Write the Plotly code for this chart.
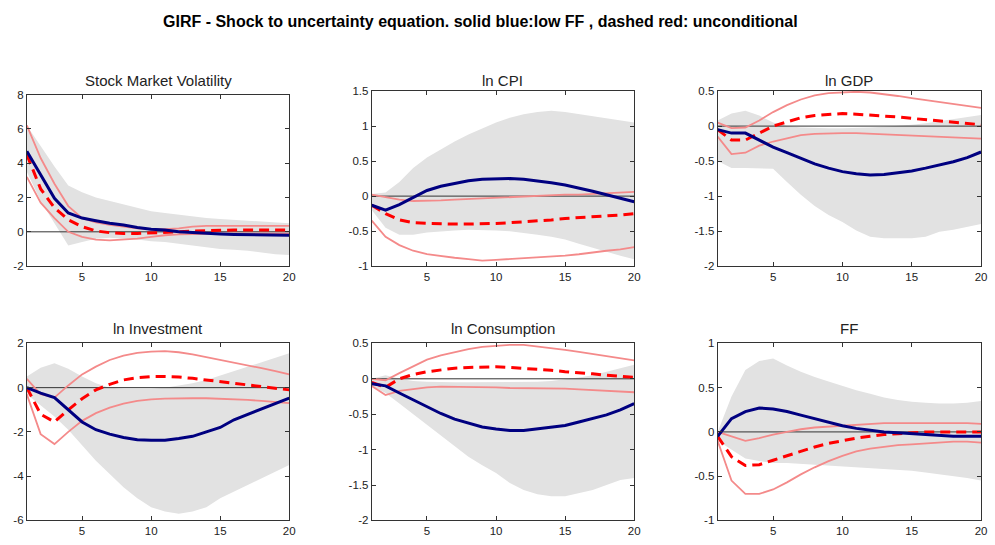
import plotly.graph_objects as go

horizon = list(range(1, 21))

titles = ["Stock Market Volatility", "ln CPI", "ln GDP", "ln Investment", "ln Consumption", "FF"]
main_title = "GIRF - Shock to uncertainty equation. solid blue:low FF , dashed red: unconditional"

# --- Stock Market Volatility ---
vol_blue = [4.7, 3.3, 1.95, 1.1, 0.8, 0.65, 0.5, 0.4, 0.25, 0.15, 0.1, 0.0, -0.05, -0.1, -0.12, -0.15, -0.17, -0.18, -0.19, -0.2]
vol_red = [4.5, 2.5, 1.4, 0.7, 0.3, 0.05, -0.05, -0.1, -0.1, -0.08, -0.05, 0.0, 0.05, 0.08, 0.1, 0.1, 0.1, 0.1, 0.1, 0.1]
vol_red_hi = [6.2, 4.3, 2.8, 1.5, 0.8, 0.55, 0.4, 0.3, 0.2, 0.15, 0.15, 0.2, 0.3, 0.35, 0.35, 0.35, 0.35, 0.35, 0.35, 0.35]
vol_red_lo = [3.2, 1.7, 0.8, 0.0, -0.3, -0.45, -0.5, -0.45, -0.4, -0.3, -0.2, -0.15, -0.15, -0.12, -0.1, -0.1, -0.1, -0.1, -0.1, -0.1]
vol_band_hi = [6.2, 5.0, 3.8, 2.7, 2.3, 2.0, 1.8, 1.6, 1.4, 1.2, 1.1, 1.0, 0.9, 0.8, 0.75, 0.7, 0.65, 0.6, 0.55, 0.5]
vol_band_lo = [3.5, 1.8, 0.5, -0.8, -0.6, -0.4, -0.35, -0.4, -0.45, -0.55, -0.6, -0.7, -0.8, -0.9, -1.0, -1.05, -1.1, -1.2, -1.3, -1.35]

# --- ln CPI ---
cpi_blue = [-0.13, -0.2, -0.12, -0.02, 0.08, 0.14, 0.18, 0.22, 0.24, 0.25, 0.25, 0.24, 0.22, 0.19, 0.16, 0.12, 0.07, 0.02, -0.03, -0.08]
cpi_red = [-0.13, -0.25, -0.34, -0.38, -0.39, -0.4, -0.4, -0.4, -0.4, -0.39, -0.38, -0.37, -0.36, -0.34, -0.32, -0.31, -0.3, -0.28, -0.27, -0.25]
cpi_red_hi = [0.02, -0.02, -0.05, -0.07, -0.07, -0.06, -0.05, -0.04, -0.03, -0.02, -0.01, 0.0, 0.01, 0.01, 0.02, 0.02, 0.03, 0.04, 0.05, 0.06]
cpi_red_lo = [-0.35, -0.58, -0.7, -0.78, -0.83, -0.86, -0.88, -0.9, -0.92, -0.91, -0.9, -0.89, -0.88, -0.87, -0.85, -0.83, -0.8, -0.78, -0.76, -0.73]
cpi_band_hi = [0.03, 0.05, 0.2, 0.4, 0.55, 0.67, 0.78, 0.88, 0.97, 1.05, 1.12, 1.17, 1.2, 1.22, 1.2, 1.17, 1.15, 1.12, 1.09, 1.05]
cpi_band_lo = [-0.2, -0.45, -0.55, -0.55, -0.52, -0.5, -0.49, -0.48, -0.48, -0.49, -0.5, -0.52, -0.55, -0.58, -0.62, -0.68, -0.74, -0.8, -0.85, -0.9]

# --- ln GDP ---
gdp_blue = [-0.05, -0.1, -0.1, -0.2, -0.3, -0.38, -0.46, -0.54, -0.6, -0.65, -0.68, -0.7, -0.69, -0.67, -0.64, -0.6, -0.56, -0.51, -0.45, -0.37]
gdp_red = [-0.05, -0.2, -0.2, -0.1, 0.0, 0.06, 0.12, 0.15, 0.17, 0.18, 0.17, 0.16, 0.15, 0.13, 0.11, 0.09, 0.07, 0.05, 0.04, 0.02]
gdp_red_hi = [0.05, -0.03, -0.02, 0.08, 0.2, 0.3, 0.38, 0.44, 0.47, 0.48, 0.49, 0.48, 0.46, 0.43, 0.4, 0.37, 0.35, 0.32, 0.29, 0.26]
gdp_red_lo = [-0.15, -0.4, -0.38, -0.28, -0.22, -0.17, -0.13, -0.11, -0.1, -0.1, -0.1, -0.11, -0.12, -0.13, -0.14, -0.15, -0.15, -0.16, -0.17, -0.18]
gdp_band_hi = [0.08, 0.18, 0.22, 0.15, 0.05, 0.0, -0.02, -0.03, -0.03, -0.03, -0.03, -0.02, -0.01, 0.0, 0.02, 0.04, 0.07, 0.1, 0.13, 0.16]
gdp_band_lo = [-0.5, -0.6, -0.6, -0.6, -0.61, -0.8, -0.98, -1.14, -1.27, -1.37, -1.49, -1.58, -1.6, -1.6, -1.6, -1.58, -1.51, -1.48, -1.44, -1.4]

# --- ln Investment ---
inv_blue = [0.0, -0.25, -0.45, -1.0, -1.55, -1.9, -2.1, -2.25, -2.35, -2.38, -2.38, -2.3, -2.2, -2.0, -1.8, -1.45, -1.2, -0.95, -0.7, -0.47]
inv_red = [0.0, -1.2, -1.55, -1.0, -0.5, -0.1, 0.15, 0.35, 0.45, 0.5, 0.5, 0.48, 0.42, 0.35, 0.28, 0.2, 0.12, 0.05, -0.02, -0.1]
inv_red_hi = [0.4, -0.3, -0.45, 0.1, 0.6, 0.95, 1.25, 1.45, 1.57, 1.63, 1.65, 1.6, 1.5, 1.38, 1.27, 1.15, 1.02, 0.88, 0.75, 0.6]
inv_red_lo = [-0.3, -2.1, -2.55, -2.0, -1.5, -1.15, -0.9, -0.72, -0.6, -0.53, -0.5, -0.48, -0.48, -0.48, -0.5, -0.52, -0.55, -0.6, -0.65, -0.7]
inv_band_hi = [0.5, 0.9, 1.1, 0.85, 0.5, 0.2, 0.0, -0.05, -0.05, -0.05, 0.0, 0.1, 0.2, 0.35, 0.55, 0.75, 0.95, 1.15, 1.35, 1.55]
inv_band_lo = [-0.3, -0.8, -1.3, -1.9, -2.6, -3.3, -3.9, -4.5, -5.0, -5.4, -5.6, -5.7, -5.6, -5.4, -5.0, -4.7, -4.4, -4.1, -3.8, -3.5]

# --- ln Consumption ---
con_blue = [-0.07, -0.1, -0.2, -0.3, -0.4, -0.49, -0.57, -0.63, -0.68, -0.71, -0.73, -0.73, -0.71, -0.69, -0.66, -0.61, -0.56, -0.51, -0.44, -0.35]
con_red = [-0.05, -0.12, 0.0, 0.06, 0.1, 0.13, 0.15, 0.16, 0.17, 0.17, 0.16, 0.15, 0.13, 0.12, 0.1, 0.09, 0.07, 0.05, 0.04, 0.02]
con_red_hi = [0.0, -0.02, 0.08, 0.18, 0.27, 0.33, 0.38, 0.42, 0.45, 0.47, 0.48, 0.48, 0.46, 0.43, 0.41, 0.38, 0.35, 0.32, 0.29, 0.26]
con_red_lo = [-0.1, -0.23, -0.17, -0.14, -0.12, -0.11, -0.11, -0.11, -0.12, -0.12, -0.13, -0.13, -0.13, -0.14, -0.14, -0.15, -0.16, -0.17, -0.18, -0.19]
con_band_hi = [0.0, 0.05, 0.0, -0.03, -0.04, -0.05, -0.05, -0.05, -0.05, -0.05, -0.05, -0.05, -0.04, -0.03, -0.01, 0.02, 0.05, 0.1, 0.15, 0.2]
con_band_lo = [-0.1, -0.2, -0.35, -0.5, -0.65, -0.8, -0.95, -1.1, -1.22, -1.33, -1.47, -1.57, -1.63, -1.66, -1.66, -1.62, -1.57, -1.5, -1.43, -1.4]

# --- FF ---
ff_blue = [-0.05, 0.15, 0.23, 0.27, 0.26, 0.23, 0.19, 0.15, 0.11, 0.07, 0.04, 0.02, 0.0, -0.01, -0.02, -0.03, -0.04, -0.05, -0.05, -0.05]
ff_red = [-0.05, -0.28, -0.38, -0.37, -0.32, -0.27, -0.22, -0.17, -0.13, -0.1, -0.07, -0.05, -0.03, -0.02, -0.01, 0.0, 0.0, 0.0, 0.0, 0.0]
ff_red_hi = [0.0, -0.05, -0.1, -0.07, -0.03, 0.0, 0.03, 0.05, 0.06, 0.07, 0.08, 0.09, 0.1, 0.1, 0.1, 0.1, 0.1, 0.1, 0.1, 0.09]
ff_red_lo = [-0.1, -0.55, -0.7, -0.7, -0.65, -0.57, -0.48, -0.4, -0.33, -0.27, -0.22, -0.19, -0.17, -0.15, -0.14, -0.13, -0.12, -0.11, -0.11, -0.12]
ff_band_hi = [0.0, 0.4, 0.7, 0.8, 0.83, 0.75, 0.68, 0.62, 0.57, 0.52, 0.47, 0.43, 0.39, 0.36, 0.34, 0.33, 0.32, 0.32, 0.33, 0.35]
ff_band_lo = [-0.1, -0.2, -0.3, -0.33, -0.35, -0.35, -0.36, -0.37, -0.38, -0.39, -0.4, -0.41, -0.42, -0.43, -0.44, -0.46, -0.48, -0.5, -0.52, -0.55]

zero_line = [0.0] * 20

panels = [
    (vol_band_lo, vol_band_hi, vol_red_lo, vol_red_hi, vol_red, vol_blue, [-2, 8], [-2, 0, 2, 4, 6, 8], ["-2", "0", "2", "4", "6", "8"]),
    (cpi_band_lo, cpi_band_hi, cpi_red_lo, cpi_red_hi, cpi_red, cpi_blue, [-1, 1.5], [-1, -0.5, 0, 0.5, 1, 1.5], ["-1", "-0.5", "0", "0.5", "1", "1.5"]),
    (gdp_band_lo, gdp_band_hi, gdp_red_lo, gdp_red_hi, gdp_red, gdp_blue, [-2, 0.5], [-2, -1.5, -1, -0.5, 0, 0.5], ["-2", "-1.5", "-1", "-0.5", "0", "0.5"]),
    (inv_band_lo, inv_band_hi, inv_red_lo, inv_red_hi, inv_red, inv_blue, [-6, 2], [-6, -4, -2, 0, 2], ["-6", "-4", "-2", "0", "2"]),
    (con_band_lo, con_band_hi, con_red_lo, con_red_hi, con_red, con_blue, [-2, 0.5], [-2, -1.5, -1, -0.5, 0, 0.5], ["-2", "-1.5", "-1", "-0.5", "0", "0.5"]),
    (ff_band_lo, ff_band_hi, ff_red_lo, ff_red_hi, ff_red, ff_blue, [-1, 1], [-1, -0.5, 0, 0.5, 1], ["-1", "-0.5", "0", "0.5", "1"]),
]

x_ticks = [5, 10, 15, 20]

# full-window figure; the page's default body margin is removed after render
W, H = 995, 545
col_px = [(27, 291), (374, 638), (722, 987)]
row_px = [[(90.5, 266), (87, 266), (87, 266)], [(345, 526), (345, 526), (345, 526)]]


def px_x(p):
    return p / W


def px_y(p):
    return 1 - p / H


BAND = "#e2e2e2"
SALMON = "#f48a8a"
RED = "#ff0000"
NAVY = "#000080"

fig = go.Figure()
layout = dict(
    width=W, height=H,
    margin=dict(l=0, r=0, t=0, b=0),
    paper_bgcolor="white", plot_bgcolor="white",
    showlegend=False, hovermode=False,
    font=dict(family="Liberation Sans, Arial, sans-serif", color="#222222", size=11),
)
annotations = []

for i, (blo, bhi, rlo, rhi, rmid, blue, yr, yt, ytl) in enumerate(panels):
    r, c = divmod(i, 3)
    n = i + 1
    xa = "x" if n == 1 else f"x{n}"
    ya = "y" if n == 1 else f"y{n}"
    x0, x1 = col_px[c]
    y0, y1 = row_px[r][c]
    common = dict(xaxis=xa, yaxis=ya, hoverinfo="skip")
    fig.add_trace(go.Scatter(x=horizon, y=blo, mode="lines", line=dict(width=0, color=BAND), **common))
    fig.add_trace(go.Scatter(x=horizon, y=bhi, mode="lines", line=dict(width=0, color=BAND),
                             fill="tonexty", fillcolor=BAND, **common))
    fig.add_trace(go.Scatter(x=horizon, y=zero_line, mode="lines", line=dict(width=1, color="#333333"), **common))
    fig.add_trace(go.Scatter(x=horizon, y=rhi, mode="lines", line=dict(width=1.8, color=SALMON), **common))
    fig.add_trace(go.Scatter(x=horizon, y=rlo, mode="lines", line=dict(width=1.8, color=SALMON), **common))
    fig.add_trace(go.Scatter(x=horizon, y=rmid, mode="lines", line=dict(width=3, color=RED, dash="10px,6px"), **common))
    fig.add_trace(go.Scatter(x=horizon, y=blue, mode="lines", line=dict(width=3, color=NAVY), **common))

    axis_style = dict(showline=True, linecolor="#333333", linewidth=1, mirror="ticks",
                      ticks="inside", ticklen=4, tickcolor="#333333", showgrid=False, zeroline=False,
                      tickfont=dict(size=11.5, color="#222222"))
    layout["xaxis" if n == 1 else f"xaxis{n}"] = dict(
        domain=[px_x(x0), px_x(x1)], range=[1, 20], tickvals=x_ticks, ticktext=[str(v) for v in x_ticks],
        anchor=ya, **axis_style)
    layout["yaxis" if n == 1 else f"yaxis{n}"] = dict(
        domain=[px_y(y1), px_y(y0)], range=yr, tickvals=yt, ticktext=ytl,
        anchor=xa, **axis_style)
    title_y = 76 if r == 0 else 330
    annotations.append(dict(text=titles[i], x=px_x((x0 + x1) / 2), y=px_y(title_y), xref="paper", yref="paper",
                            xanchor="center", yanchor="middle", showarrow=False,
                            font=dict(size=15, color="#222222")))

annotations.append(dict(text="<b>" + main_title + "</b>", x=px_x(483), y=px_y(16), xref="paper", yref="paper",
                        xanchor="center", yanchor="middle", showarrow=False,
                        font=dict(size=16, color="#000000")))
layout["annotations"] = annotations
fig.update_layout(**layout)
fig.write_html("out.html", config={"displayModeBar": False, "staticPlot": True},
               post_script="document.body.style.margin='0px';")
